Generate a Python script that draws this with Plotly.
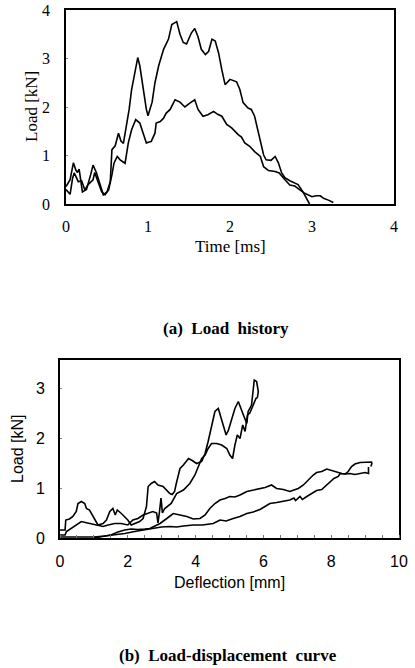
import plotly.graph_objects as go

# ---------- (a) Load history ----------
time_a = [0, 0.05, 0.09, 0.12, 0.14, 0.16, 0.2, 0.25, 0.3, 0.33, 0.37, 0.4, 0.455, 0.5, 0.54, 0.56, 0.6,
          0.64, 0.67, 0.7, 0.73, 0.77, 0.8, 0.84, 0.875, 0.9, 0.94, 0.98, 1.0, 1.05, 1.085, 1.13, 1.19,
          1.25, 1.29, 1.35, 1.39, 1.43, 1.47, 1.53, 1.57, 1.61, 1.65, 1.7, 1.74, 1.78, 1.82, 1.86, 1.9,
          1.94, 2.0, 2.08, 2.12, 2.16, 2.22, 2.26, 2.3, 2.33, 2.37, 2.41, 2.44, 2.5, 2.55, 2.59, 2.63,
          2.67, 2.73, 2.79, 2.83, 2.89, 2.95, 2.97]
load_a = [0.36, 0.5, 0.85, 0.7, 0.65, 0.72, 0.25, 0.3, 0.6, 0.8, 0.65, 0.5, 0.19, 0.25, 0.46, 1.12, 1.2,
          1.46, 1.3, 1.25, 1.53, 1.95, 2.36, 2.7, 3.02, 2.85, 2.36, 1.95, 1.82, 2.1, 2.5, 2.85, 3.19,
          3.4, 3.7, 3.76, 3.5, 3.33, 3.3, 3.53, 3.62, 3.45, 3.19, 3.08, 3.15, 3.4, 3.36, 3.12, 2.77,
          2.46, 2.57, 2.52, 2.36, 2.09, 1.98, 1.95, 1.81, 1.6, 1.33, 1.01, 0.91, 0.9, 0.98, 0.85, 0.64,
          0.54, 0.48, 0.44, 0.4, 0.25, 0.08, 0.0]

time_b = [0, 0.05, 0.08, 0.1, 0.15, 0.19, 0.23, 0.27, 0.33, 0.35, 0.39, 0.435, 0.475, 0.52, 0.56, 0.585,
          0.625, 0.66, 0.72, 0.76, 0.8, 0.85, 0.9, 0.935, 0.98, 1.04, 1.085, 1.1, 1.15, 1.19, 1.22, 1.27,
          1.33, 1.39, 1.45, 1.51, 1.57, 1.61, 1.67, 1.73, 1.8, 1.85, 1.9, 1.96, 2.02, 2.1, 2.14, 2.18,
          2.24, 2.3, 2.37, 2.41, 2.47, 2.55, 2.6, 2.67, 2.73, 2.79, 2.85, 2.91, 3.0, 3.05, 3.1, 3.14,
          3.2, 3.26]
load_b = [0.3, 0.2, 0.53, 0.64, 0.46, 0.48, 0.29, 0.4, 0.5, 0.65, 0.46, 0.25, 0.19, 0.29, 0.6, 0.84,
          0.98, 0.91, 0.84, 1.26, 1.53, 1.74, 1.67, 1.5, 1.26, 1.29, 1.46, 1.67, 1.7, 1.77, 1.87, 1.95,
          2.15, 2.1, 2.0, 2.08, 2.15, 1.95, 1.81, 1.84, 1.91, 1.85, 1.81, 1.64, 1.57, 1.43, 1.38, 1.26,
          1.19, 1.08, 0.98, 0.77, 0.69, 0.67, 0.64, 0.5, 0.39, 0.37, 0.29, 0.22, 0.15, 0.17, 0.17, 0.12,
          0.08, 0.03]

# ---------- (b) Load-displacement curve ----------
defl_u1 = [0, 0.15, 0.17, 0.28, 0.38, 0.48, 0.53, 0.63, 0.73, 0.78, 0.87, 0.97, 1.07, 1.12, 1.27, 1.37,
           1.47, 1.56, 1.63, 1.69, 1.81, 1.91, 2.0, 2.1, 2.2, 2.35, 2.45, 2.55, 2.6, 2.69, 2.79, 2.89,
           3.04, 3.14, 3.24, 3.31, 3.38, 3.43, 3.5, 3.54, 3.64, 3.79, 3.9, 4.03, 4.18, 4.28, 4.37, 4.47,
           4.57, 4.67, 4.74, 4.82, 4.9, 4.97, 5.06, 5.16, 5.26, 5.33, 5.41, 5.51, 5.55, 5.65, 5.7, 5.73,
           5.8, 5.85, 5.82]
load_u1 = [0.16, 0.16, 0.36, 0.38, 0.43, 0.53, 0.69, 0.73, 0.69, 0.59, 0.56, 0.43, 0.33, 0.26, 0.29, 0.36,
           0.53, 0.59, 0.46, 0.56, 0.49, 0.43, 0.36, 0.26, 0.29, 0.33, 0.39, 0.63, 1.03, 1.09, 1.13, 1.06,
           1.03, 0.96, 0.89, 0.87, 0.93, 1.09, 1.29, 1.39, 1.46, 1.59, 1.55, 1.49, 1.53, 1.69, 1.93, 2.26,
           2.53, 2.59, 2.43, 2.26, 2.06, 2.16, 2.39, 2.59, 2.73, 2.59, 2.46, 2.29, 2.53, 2.66, 2.93, 3.16,
           3.13, 2.93, 2.8]

defl_u2 = [0, 0.15, 0.19, 0.33, 0.48, 0.63, 0.75, 0.87, 1.02, 1.12, 1.27, 1.42, 1.61, 1.8, 2.0, 2.15,
           2.3, 2.45, 2.6, 2.74, 2.85, 2.89, 2.93, 2.98, 3.02, 3.09, 3.28, 3.44, 3.64, 3.83, 3.98, 4.08,
           4.18, 4.28, 4.37, 4.47, 4.62, 4.77, 4.92, 5.01, 5.09, 5.16, 5.23, 5.31, 5.39, 5.46, 5.53, 5.6,
           5.7, 5.78, 5.82]
load_u2 = [0.06, 0.06, 0.13, 0.19, 0.26, 0.33, 0.31, 0.29, 0.28, 0.26, 0.23, 0.26, 0.29, 0.29, 0.26, 0.36,
           0.39, 0.46, 0.49, 0.53, 0.5, 0.3, 0.5, 0.8, 0.5, 0.59, 0.69, 0.89, 0.96, 1.09, 1.26, 1.43,
           1.59, 1.66, 1.79, 1.89, 1.89, 1.86, 1.79, 1.66, 1.59, 1.86, 2.06, 1.99, 2.26, 2.13, 2.46, 2.5,
           2.66, 2.79, 2.8]

defl_l1 = [1.0, 1.3, 1.5, 1.71, 1.91, 2.1, 2.3, 2.5, 2.65, 2.8, 2.95, 3.15, 3.34, 3.54, 3.74, 3.93, 4.13,
           4.28, 4.42, 4.57, 4.72, 4.87, 5.01, 5.16, 5.31, 5.51, 5.7, 5.9, 6.05, 6.24, 6.39, 6.59, 6.78,
           6.9, 7.03, 7.18, 7.32, 7.47, 7.57, 7.72, 7.87, 8.01, 8.16, 8.31, 8.44, 8.55, 8.7, 8.85, 9.0,
           9.1, 9.1]
load_l1 = [0.0, 0.03, 0.06, 0.12, 0.16, 0.18, 0.17, 0.18, 0.19, 0.24, 0.29, 0.39, 0.49, 0.46, 0.43, 0.38,
           0.39, 0.46, 0.59, 0.69, 0.76, 0.79, 0.83, 0.82, 0.86, 0.93, 0.96, 0.99, 1.01, 1.06, 0.99, 0.97,
           0.93, 0.96, 0.99, 1.06, 1.16, 1.26, 1.31, 1.33, 1.38, 1.35, 1.33, 1.29, 1.28, 1.29, 1.27, 1.29,
           1.31, 1.29, 1.42]

defl_l2 = [0, 0.5, 1.0, 1.32, 1.61, 1.91, 2.2, 2.45, 2.69, 2.99, 3.24, 3.44, 3.64, 3.93, 4.2, 4.52, 4.72,
           4.9, 5.11, 5.31, 5.51, 5.7, 5.9, 6.05, 6.19, 6.39, 6.59, 6.78, 6.9, 6.95, 7.08, 7.15, 7.28,
           7.42, 7.57, 7.72, 7.82, 7.91, 8.01, 8.08, 8.21, 8.26, 8.41, 8.5, 8.6, 8.7, 8.85, 9.0, 9.19,
           9.2, 9.17]
load_l2 = [0.02, 0.02, 0.02, 0.04, 0.06, 0.09, 0.13, 0.16, 0.19, 0.22, 0.23, 0.22, 0.24, 0.26, 0.26, 0.29,
           0.36, 0.34, 0.39, 0.43, 0.49, 0.52, 0.57, 0.63, 0.69, 0.71, 0.73, 0.76, 0.8, 0.75, 0.83, 0.77,
           0.83, 0.89, 0.95, 0.97, 1.03, 1.09, 1.13, 1.19, 1.23, 1.29, 1.28, 1.33, 1.43, 1.48, 1.51, 1.52,
           1.52, 1.49, 1.43]

ticks_a = [0, 1, 2, 3, 4]
ticks_bx = [0, 2, 4, 6, 8, 10]
ticks_by = [0, 1, 2, 3]

W, H = 415, 668
line = dict(color="black", width=1.6)
serif = "Liberation Serif, Times New Roman, serif"
sans = "Liberation Sans, Arial, sans-serif"

fig = go.Figure()
fig.add_trace(go.Scatter(x=time_a, y=load_a, mode="lines", line=line, xaxis="x", yaxis="y"))
fig.add_trace(go.Scatter(x=time_b, y=load_b, mode="lines", line=line, xaxis="x", yaxis="y"))
for xs, ys in [(defl_u1, load_u1), (defl_u2, load_u2), (defl_l1, load_l1), (defl_l2, load_l2)]:
    fig.add_trace(go.Scatter(x=xs, y=ys, mode="lines", line=line, xaxis="x2", yaxis="y2"))

def dom_x(a, b):
    return [a / W, b / W]

def dom_y(top, bottom):
    return [1 - bottom / H, 1 - top / H]

def px(x, y):
    return x / W, 1 - y / H

axis_common = dict(showgrid=False, zeroline=False, showline=True, linecolor="black", linewidth=1.6,
                   mirror=True, automargin=False)

def label(text, x, y, family, size, bold=False, angle=0):
    xx, yy = px(x, y)
    return dict(text=f"<b>{text}</b>" if bold else text, xref="paper", yref="paper", x=xx, y=yy,
                showarrow=False, textangle=angle, font=dict(family=family, size=size, color="black"),
                xanchor="center", yanchor="middle")

fig.update_layout(
    width=W, height=H, margin=dict(l=0, r=0, t=0, b=0, autoexpand=False),
    paper_bgcolor="white", plot_bgcolor="white", showlegend=False,
    xaxis=dict(domain=dom_x(66, 394), range=[0, 4], tickvals=ticks_a, anchor="y",
               tickfont=dict(family=serif, size=16, color="black"), ticks="", ticklabelstandoff=7,
               **axis_common),
    yaxis=dict(domain=dom_y(10, 204), range=[0, 4], tickvals=ticks_a, anchor="x",
               tickfont=dict(family=serif, size=16, color="black"), ticks="inside", ticklen=2,
               tickcolor="#888", ticklabelstandoff=11,
               **axis_common),
    xaxis2=dict(domain=dom_x(60, 399), range=[0, 10], tickvals=ticks_bx, anchor="y2",
                tickfont=dict(family=sans, size=16, color="black"), ticks="", ticklabelstandoff=8,
                minor=dict(dtick=0.5, ticks="inside", ticklen=3, tickcolor="#777"),
                **axis_common),
    yaxis2=dict(domain=dom_y(360, 538), range=[0, 3.56], tickvals=ticks_by, anchor="x2",
                tickfont=dict(family=sans, size=16, color="black"), ticks="inside", ticklen=2,
                tickcolor="#888", ticklabelstandoff=10,
                **axis_common),
    annotations=[
        label("Time [ms]", 230, 246, serif, 17),
        label("Load [kN]", 31, 107, serif, 17, angle=-90),
        label("Deflection [mm]", 229, 582, sans, 16),
        label("Load [kN]", 17, 449, sans, 16, angle=-90),
        label("(a)  Load  history", 226, 328, serif, 17, bold=True),
        label("(b)  Load-displacement  curve", 228, 655, serif, 17, bold=True),
    ],
)

fig.write_html("out.html", config={"displayModeBar": False},
               post_script="document.body.style.margin='0';document.body.style.overflow='hidden';")
